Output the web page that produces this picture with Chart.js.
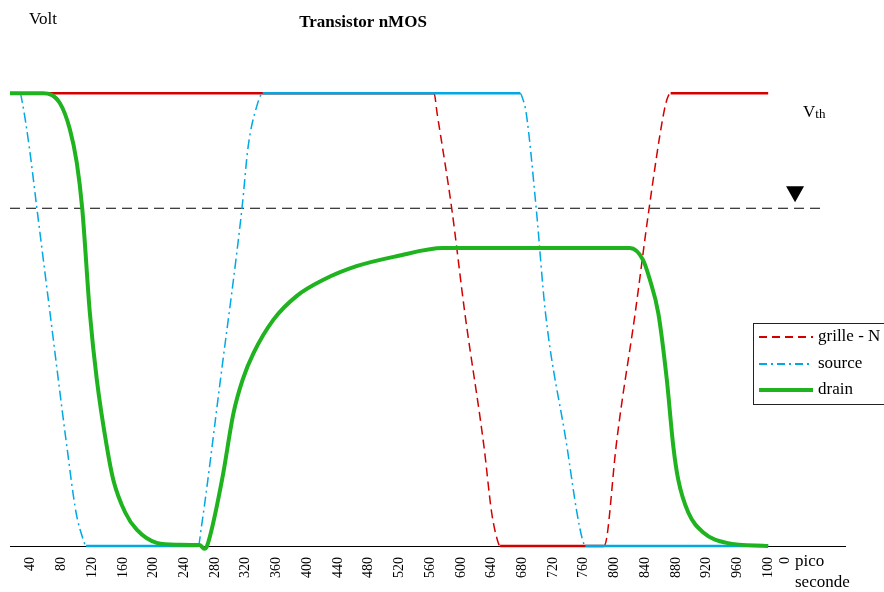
<!DOCTYPE html>
<html>
<head>
<meta charset="utf-8">
<script src="https://cdn.jsdelivr.net/npm/chart.js@4.4.1/dist/chart.umd.min.js"></script>
<style>
  html, body { margin: 0; padding: 0; background: #fff; }
  #wrap { width: 884px; height: 592px; }
</style>
</head>
<body>
<div id="wrap"><canvas id="chart" width="884" height="592"></canvas></div>
<script>
// tick labels on the time axis (pico seconde)
const xTicks = [40, 80, 120, 160, 200, 240, 280, 320, 360, 400, 440, 480, 520, 560,
                600, 640, 680, 720, 760, 800, 840, 880, 920, 960, 1000];

// grille - N
const grilleT = [13, 565, 569, 588, 605, 630, 640, 647, 651, 786, 790, 802, 827, 845, 864, 869, 873, 1000];
const grilleV = [5, 5, 4.78, 3.73, 2.58, 1.1, 0.37, 0.08, 0, 0, 0.1, 1.1, 2.58, 3.73, 4.78, 4.95, 5, 5];

// source
const sourceT = [13, 26, 29, 38, 48, 65, 87, 99, 108, 112, 258, 262, 287, 315, 323, 334, 342,
                 677, 680, 685, 698, 710, 738, 751, 758, 762, 1000];
const sourceV = [5, 5, 4.9, 4.41, 3.73, 2.58, 1.1, 0.37, 0.08, 0, 0, 0.2, 1.84, 3.73, 4.41, 4.85, 5,
                 5, 4.95, 4.78, 3.73, 2.58, 1.1, 0.37, 0.08, 0, 0];

// drain
const drainT = [13, 56, 78, 91, 100, 107, 117, 126, 139, 147.5, 163, 178, 204, 230, 260, 266, 269.5,
                289, 304, 316, 330, 356, 386, 421, 464, 516, 577,
                820, 837, 846, 857, 868, 876.5, 883, 896, 915.5, 946, 1000];
const drainV = [5, 5, 4.89, 4.6, 4.23, 3.73, 2.57, 1.84, 1.1, 0.73, 0.37, 0.18, 0.035, 0.015, 0.01, -0.03, 0,
                0.73, 1.47, 1.84, 2.13, 2.5, 2.76, 2.94, 3.09, 3.2, 3.29,
                3.29, 3.16, 2.94, 2.57, 1.84, 1.1, 0.73, 0.37, 0.15, 0.035, 0];

// threshold line
const vthLevel = 3.73;
const vthSpan = [13, 1074];
const vthMarkerT = 1035;

const serif = '"Liberation Serif", "Times New Roman", serif';
const red = '#d40000';
const blue = '#00a8e4';
const green = '#1fb41f';

function toPoints(ts, vs) {
  return ts.map((t, i) => ({ x: t, y: vs[i] }));
}

// flat parts come out solid, slopes dashed
function slopeStyle(dash) {
  return {
    borderDash: c => c.p0.parsed.y === c.p1.parsed.y ? [] : dash,
    borderWidth: c => c.p0.parsed.y === c.p1.parsed.y ? 2.5 : 1.5
  };
}

const overlay = {
  id: 'overlay',
  afterDraw(chart) {
    const ctx = chart.ctx;
    const xs = chart.scales.x;
    const ys = chart.scales.y;
    ctx.save();
    ctx.fillStyle = '#000';
    ctx.textBaseline = 'alphabetic';

    ctx.font = 'bold 17px ' + serif;
    ctx.textAlign = 'center';
    ctx.fillText('Transistor nMOS', 363, 26.5);

    ctx.font = '17px ' + serif;
    ctx.textAlign = 'left';
    ctx.fillText('Volt', 29, 23.5);

    // V_th label
    ctx.fillText('V', 803, 116.5);
    const vw = ctx.measureText('V').width;
    ctx.font = '13px ' + serif;
    ctx.fillText('th', 803 + vw, 117.5);

    // marker above the threshold line
    const mx = xs.getPixelForValue(vthMarkerT);
    const my = ys.getPixelForValue(vthLevel) - 6;
    ctx.beginPath();
    ctx.moveTo(mx - 9, my - 16);
    ctx.lineTo(mx + 9, my - 16);
    ctx.lineTo(mx, my);
    ctx.closePath();
    ctx.fill();

    // axis unit
    ctx.font = '17px ' + serif;
    ctx.fillText('pico', 795, 566);
    ctx.fillText('seconde', 795, 587);

    // legend box
    ctx.strokeStyle = '#222';
    ctx.lineWidth = 1;
    ctx.strokeRect(753.5, 323.5, 140, 81);
    const rows = [
      { label: 'grille - N', color: red, dash: [8, 5], width: 2, y: 337 },
      { label: 'source', color: blue, dash: [8, 4, 2, 4], width: 2, y: 364 },
      { label: 'drain', color: green, dash: [], width: 4, y: 390 }
    ];
    rows.forEach(r => {
      ctx.beginPath();
      ctx.setLineDash(r.dash);
      ctx.strokeStyle = r.color;
      ctx.lineWidth = r.width;
      ctx.moveTo(759, r.y);
      ctx.lineTo(813, r.y);
      ctx.stroke();
      ctx.setLineDash([]);
      ctx.fillStyle = '#000';
      ctx.font = '17px ' + serif;
      ctx.textBaseline = 'middle';
      ctx.fillText(r.label, 818, r.y);
    });
    ctx.restore();
  }
};

new Chart(document.getElementById('chart'), {
  type: 'line',
  data: {
    datasets: [
      {
        label: 'grille - N',
        data: toPoints(grilleT, grilleV),
        borderColor: red,
        borderWidth: 2,
        segment: slopeStyle([9, 5]),
        order: 2
      },
      {
        label: 'source',
        data: toPoints(sourceT, sourceV),
        borderColor: blue,
        borderWidth: 2,
        segment: slopeStyle([10, 4, 2, 4]),
        order: 1
      },
      {
        label: 'drain',
        data: toPoints(drainT, drainV),
        borderColor: green,
        borderWidth: 4,
        order: 0
      },
      {
        label: 'Vth',
        data: vthSpan.map(t => ({ x: t, y: vthLevel })),
        borderColor: '#000',
        borderWidth: 1,
        borderDash: [10, 6],
        order: 3
      }
    ]
  },
  options: {
    responsive: false,
    animation: false,
    devicePixelRatio: 1,
    layout: { padding: { left: 10, right: 39, top: 48, bottom: 0 } },
    elements: {
      point: { radius: 0 },
      line: { cubicInterpolationMode: 'monotone', fill: false }
    },
    datasets: { line: { clip: 10 } },
    plugins: {
      legend: { display: false },
      tooltip: { enabled: false },
      title: { display: false }
    },
    scales: {
      x: {
        type: 'linear',
        min: 13,
        max: 1100,
        afterBuildTicks: s => { s.ticks = xTicks.map(v => ({ value: v })); },
        afterFit: s => { s.height = 46; },
        grid: { display: false, drawTicks: false },
        border: { display: true, color: '#000', width: 1 },
        ticks: {
          autoSkip: false,
          minRotation: 90,
          maxRotation: 90,
          padding: 11,
          color: '#000',
          font: { family: serif, size: 14 },
          callback: v => v === 1000 ? ['100', '0'] : String(v)
        }
      },
      y: { display: false, min: 0, max: 5.5 }
    }
  },
  plugins: [overlay]
});
</script>
</body>
</html>
